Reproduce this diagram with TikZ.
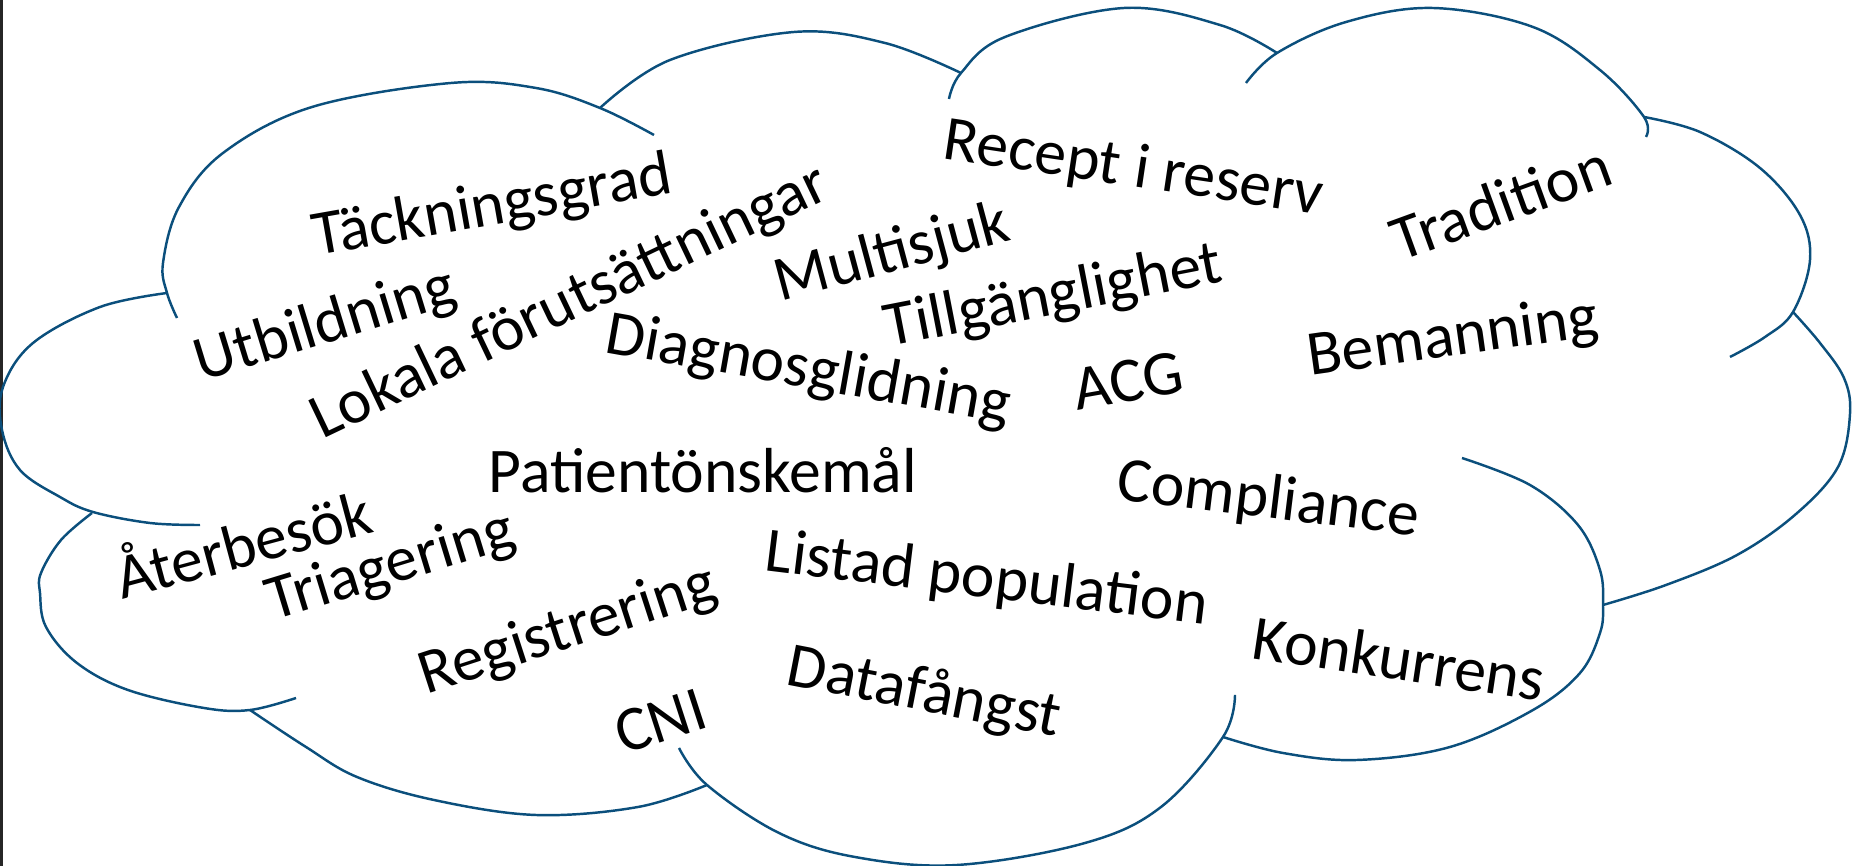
\documentclass[tikz,border=0pt]{standalone}
\usepackage{fontspec}
\setmainfont{Carlito}
\usetikzlibrary{positioning}
\definecolor{CloudBlue}{HTML}{0B4F7C}
\definecolor{Ink}{HTML}{000000}
\definecolor{Frame}{HTML}{262626}
\begin{document}
\begin{tikzpicture}[x=0.1mm,y=-0.1mm,every node/.style={text=Ink},word/.style={anchor=base west,inner sep=0pt,font=\fontsize{18.1}{21}\selectfont},lobe/.style={draw=CloudBlue,line width=0.7pt,smooth,tension=0.6}]
\useasboundingbox (0,0) rectangle (1853,866);
\fill[Frame] (0,0) rectangle (3,866);
\draw[lobe] plot coordinates {(177,318) (167,293) (163,263) (179,207) (223,153) (312,107) (451,83) (536,88) (600,108) (654,135)};
\draw[lobe] plot coordinates {(600,108) (670,60) (794,32) (885,43) (961,73)};
\draw[lobe] plot coordinates {(949,99) (961,73) (1005,37) (1124,8) (1220,25) (1277,53)};
\draw[lobe] plot coordinates {(1246,83) (1277,53) (1346,22) (1433,8) (1533,27) (1600,70) (1644,117) (1646,137)};
\draw[lobe] plot coordinates {(1644,117) (1700,132) (1760,168) (1800,215) (1810,260) (1793,312) (1765,337) (1730,357)};
\draw[lobe] plot coordinates {(1793,312) (1820,343) (1844,378) (1850,414) (1838,467) (1796,514) (1737,555) (1666,585) (1603,605)};
\draw[lobe] plot coordinates {(1462,458) (1530,485) (1578,525) (1600,570) (1603,605) (1600,633) (1580,673) (1533,710) (1450,747) (1357,760) (1283,753) (1223,737)};
\draw[lobe] plot coordinates {(1235,695) (1223,737) (1161,807) (1085,843) (957,865) (855,857) (779,833) (707,785) (679,748)};
\draw[lobe] plot coordinates {(707,785) (638,807) (536,815) (434,800) (357,777) (306,747) (250,710)};
\draw[lobe] plot coordinates {(92,513) (61,540) (41,573) (40,593) (46,627) (77,663) (128,690) (204,708) (250,710) (296,698)};
\draw[lobe] plot coordinates {(167,293) (100,307) (33,343) (3,387) (2,430) (20,470) (60,497) (93,512) (150,523) (200,525)};
\node[word,rotate=10] (tackning) at (316,256) {Täckningsgrad};
\node[word,rotate=17] (utbildning) at (201,382) {Utbildning};
\node[word,rotate=25.5] (lokala) at (322,440) {Lokala förutsättningar};
\node[word,rotate=15] (multisjuk) at (780,302) {Multisjuk};
\node[word,rotate=-8.5] (recept) at (941,158) {Recept i reserv};
\node[word,rotate=20] (tradition) at (1400,262) {Tradition};
\node[word,rotate=11] (tillganglighet) at (888,347) {Tillgänglighet};
\node[word,rotate=-10] (diagnos) at (603,352) {Diagnosglidning};
\node[word,rotate=10] (acg) at (1077,411) {ACG};
\node[word,rotate=8] (bemanning) at (1310,376) {Bemanning};
\node[word] (patient) at (488,493) {Patientönskemål};
\node[word,rotate=-7] (compliance) at (1115,499) {Compliance};
\node[word,rotate=15] (aterbesok) at (122,600) {Återbesök};
\node[word,rotate=17] (triagering) at (273,621) {Triagering};
\node[word,rotate=-7] (listad) at (763,570) {Listad population};
\node[word,rotate=18] (registrering) at (426,695) {Registrering};
\node[word,rotate=-8.5] (konkurrens) at (1250,658) {Konkurrens};
\node[word,rotate=-11] (datafangst) at (784,684) {Datafångst};
\node[word,rotate=18] (cni) at (623,755) {CNI};
\end{tikzpicture}
\end{document}
